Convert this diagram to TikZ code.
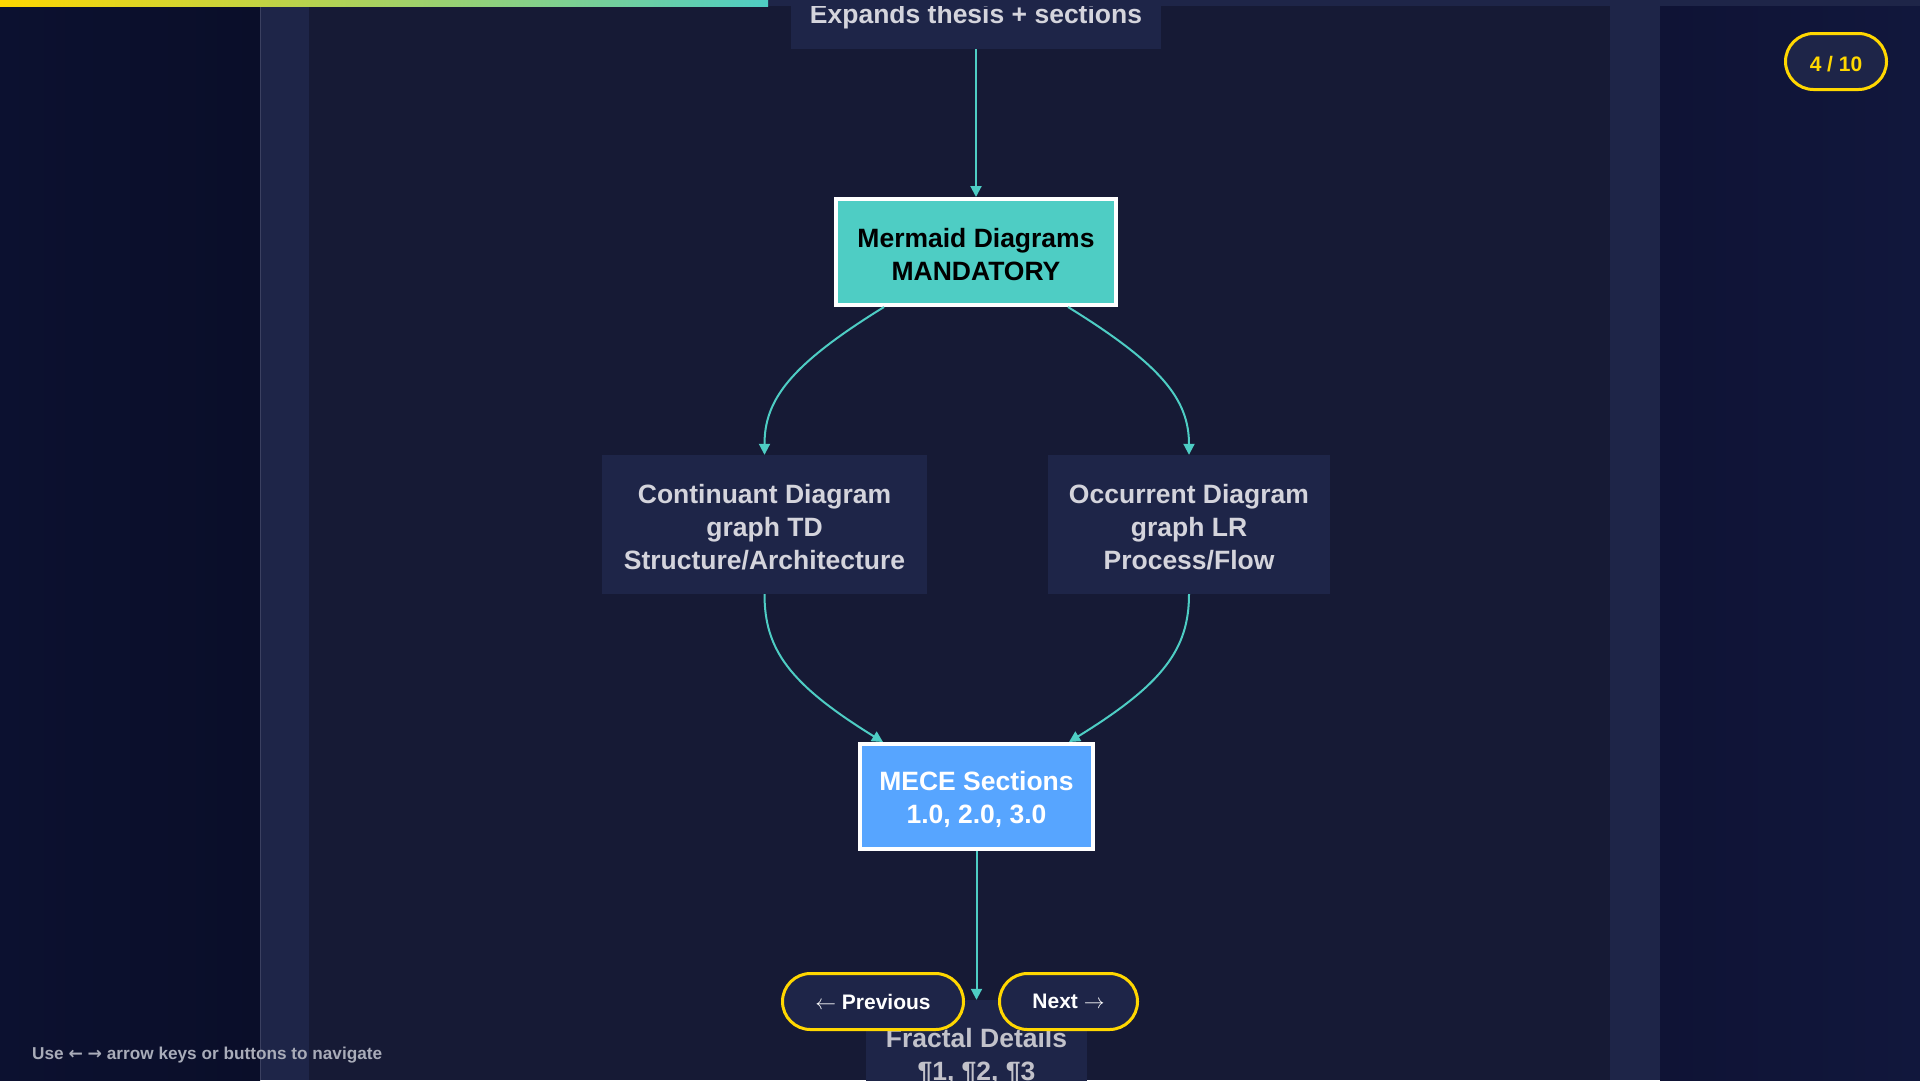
\documentclass[tikz,border=0pt]{standalone}
\usepackage{fontspec}
\setmainfont{Liberation Sans}
\newfontfamily\arrowfont{DejaVu Sans}
\usetikzlibrary{arrows.meta,calc}
\definecolor{bgl1}{HTML}{0C1130}
\definecolor{bgl2}{HTML}{0A0E29}
\definecolor{bgr1}{HTML}{0F1335}
\definecolor{bgr2}{HTML}{11173C}
\definecolor{strip}{HTML}{1E2548}
\definecolor{panel}{HTML}{161A35}
\definecolor{cteal}{HTML}{4ECDC4}
\definecolor{cblue}{HTML}{57A5FF}
\definecolor{cgold}{HTML}{FFD700}
\definecolor{ntext}{HTML}{D4D4DC}
\definecolor{ftext}{HTML}{C2C2CA}
\definecolor{hint}{HTML}{A9ACB9}
\definecolor{edgeline}{HTML}{3B4060}
\newcommand\nfont{\fontsize{26.5}{33}\selectfont\bfseries}
\newcommand\bfont{\fontsize{21}{25}\selectfont\bfseries}
\begin{document}
\begin{tikzpicture}[x=1pt,y=-1pt,
  box/.style={rectangle, inner sep=0pt, fill=strip},
  hibox/.style={box, draw=white, line width=4pt},
  txt/.style={inner sep=0pt, align=center, font=\nfont, text=ntext},
  edge/.style={draw=cteal, line width=2pt, -{Triangle[length=11pt,width=11pt]}},
  pill/.style={rectangle, rounded corners=28pt, draw=cgold, line width=3pt, fill=strip, inner sep=0pt, font=\bfont}
]
\useasboundingbox (0,0) rectangle (1920,1080);
% backgrounds
\shade[left color=bgl1, right color=bgl2] (0,0) rectangle (260,1080);
\fill[strip] (260,0) rectangle (309,1080);
\fill[panel] (309,0) rectangle (1610,1080);
\fill[strip] (1610,0) rectangle (1660,1080);
\shade[left color=bgr1, right color=bgr2] (1660,0) rectangle (1920,1080);
\draw[edgeline, line width=1pt] (260.5,0) -- (260.5,1080);

% node boxes
\node[box, minimum width=370pt, minimum height=64pt] (top) at (976,17) {};
\node[hibox, fill=cteal, minimum width=280pt, minimum height=106pt] (mermaid) at (976,252) {};
\node[box, minimum width=325pt, minimum height=139pt] (cont) at (764.5,524.5) {};
\node[box, minimum width=282pt, minimum height=139pt] (occ) at (1189,524.5) {};
\node[hibox, fill=cblue, minimum width=233pt, minimum height=105pt] (mece) at (976.5,796.5) {};
\node[box, minimum width=221pt, minimum height=113pt] (frac) at (976.5,1056.5) {};

% node texts
\node[txt] (top-t) at (top.center) {Expands thesis + sections};
\node[txt, text=black] (mermaid-t) at ($(mermaid.center)+(0,3)$) {Mermaid Diagrams\\MANDATORY};
\node[txt] (cont-t) at ($(cont.center)+(0,3)$) {Continuant Diagram\\graph TD\\Structure/Architecture};
\node[txt] (occ-t) at ($(occ.center)+(0,3)$) {Occurrent Diagram\\graph LR\\Process/Flow};
\node[txt, text=white] (mece-t) at ($(mece.center)+(0,3)$) {MECE Sections\\1.0, 2.0, 3.0};
\node[txt, text=ftext] (frac-t) at (frac.center) {Fractal Details\\¶1, ¶2, ¶3};

% edges
\draw[edge] (top.south) -- (mermaid.north);
\draw[edge] ($(mermaid.south)+(-92,0)$) .. controls +(-94,58) and +(0,-55) .. (cont.north);
\draw[edge] ($(mermaid.south)+(92,0)$) .. controls +(94,58) and +(0,-55) .. (occ.north);
\draw[edge] (cont.south) .. controls +(0,55) and +(-94,-58) .. ($(mece.north)+(-93.5,0)$);
\draw[edge] (occ.south) .. controls +(0,55) and +(94,-58) .. ($(mece.north)+(92.5,0)$);
\draw[edge] (mece.south) -- (frac.north);

% header band and progress
\fill[strip] (0,0) rectangle (1920,6);
\shade[left color=cgold, right color=cteal] (0,0) rectangle (768,6);

% controls
\node[pill, text=white, minimum width=181pt, minimum height=56pt] (prev) at (873,1001.5) {$\leftarrow$ Previous};
\node[pill, text=white, minimum width=138pt, minimum height=56pt] (next) at (1068.5,1001.5) {Next $\rightarrow$};
\node[pill, text=cgold, minimum width=101pt, minimum height=56pt, text height=19.8pt, text depth=0pt] (counter) at (1836,61.5) {4 / 10};
\node[anchor=west, inner sep=0pt, font=\fontsize{17.2}{20}\selectfont\bfseries, text=hint] (hinttext) at (32,1055.5) {Use {\arrowfont ←} {\arrowfont →} arrow keys or buttons to navigate};
\end{tikzpicture}
\end{document}
